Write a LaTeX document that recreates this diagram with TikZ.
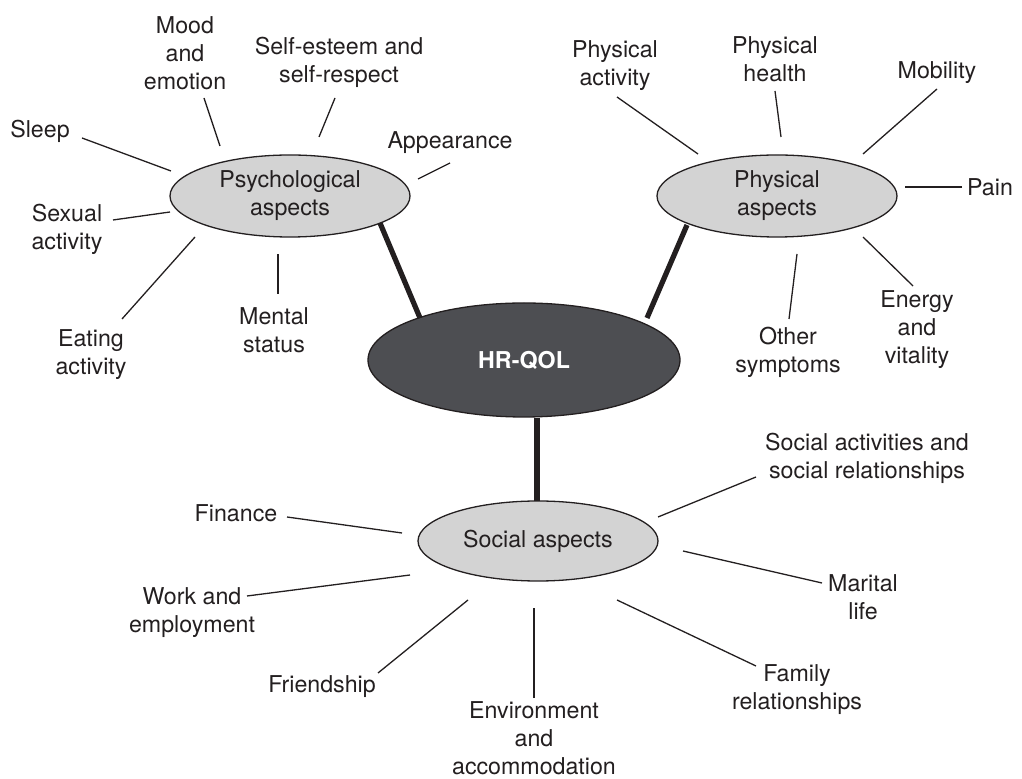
\documentclass[tikz,border=0pt]{standalone}
\usepackage{fontspec}
\setmainfont{TeX Gyre Heros}
\usetikzlibrary{shapes.geometric}
\definecolor{ink}{HTML}{231F20}
\definecolor{aspectfill}{HTML}{D3D3D3}
\definecolor{corefill}{HTML}{4D4E52}
\newcommand{\lblfont}{\fontsize{11.6}{14}\selectfont}
\begin{document}
\begin{tikzpicture}[x=0.5pt,y=-0.5pt,
  lbl/.style={align=center,font=\lblfont,text=ink,inner sep=0pt},
  aspect/.style={ellipse,draw=ink,line width=0.65pt,fill=aspectfill,inner sep=0pt,
    minimum width=120pt,minimum height=41pt,align=center,
    font=\lblfont,text=ink},
  core/.style={ellipse,draw=ink,line width=0.65pt,fill=corefill,inner sep=0pt,
    minimum width=156pt,minimum height=57pt,
    font=\lblfont\bfseries,text=white},
  spoke/.style={draw=ink,line width=0.65pt},
  trunk/.style={draw=ink,line width=2.6pt}]
\useasboundingbox (0,0) rectangle (1022,779);

% main ellipses
\node[core] (hr) at (524,360) {HR-QOL};
\node[aspect] (psy) at (290,196) {Psychological\\aspects};
\node[aspect] (phy) at (777,196) {Physical\\aspects};
\node[aspect,minimum height=40pt] (soc) at (538,541) {Social aspects};

% thick links between the core and the three aspects
\coordinate (psyT) at (380,223); \coordinate (hrP) at (420,318);
\coordinate (phyT) at (687,225); \coordinate (hrH) at (647,318);
\coordinate (hrS) at (537,418);  \coordinate (socT) at (537,501);
\draw[trunk] (psyT) -- (hrP);
\draw[trunk] (phyT) -- (hrH);
\draw[trunk] (hrS) -- (socT);

% psychological items
\node[lbl] (mood) at (185,53) {Mood\\and\\emotion};
\node[lbl] (selfe) at (339,62) {Self-esteem and\\self-respect};
\node[lbl] (sleep) at (40,131) {Sleep};
\node[lbl] (appear) at (450,143) {Appearance};
\node[lbl] (sexual) at (67,229) {Sexual\\activity};
\node[lbl] (eating) at (91,355) {Eating\\activity};
\node[lbl] (mental) at (274,330) {Mental\\status};

\coordinate (moodA) at (204,98);  \coordinate (moodB) at (220,146);
\coordinate (selfA) at (335,98);  \coordinate (selfB) at (319,137);
\coordinate (sleepA) at (82,138); \coordinate (sleepB) at (171,171);
\coordinate (appA) at (450,163);  \coordinate (appB) at (418,179);
\coordinate (sexA) at (113,220);  \coordinate (sexB) at (170,212);
\coordinate (eatA) at (122,319);  \coordinate (eatB) at (195,237);
\coordinate (menA) at (278,294);  \coordinate (menB) at (278,254);
\draw[spoke] (moodA) -- (moodB);
\draw[spoke] (selfA) -- (selfB);
\draw[spoke] (sleepA) -- (sleepB);
\draw[spoke] (appA) -- (appB);
\draw[spoke] (sexA) -- (sexB);
\draw[spoke] (eatA) -- (eatB);
\draw[spoke] (menA) -- (menB);

% physical items
\node[lbl] (pact) at (615,66) {Physical\\activity};
\node[lbl] (phealth) at (775,59) {Physical\\health};
\node[lbl] (mobility) at (937,73) {Mobility};
\node[lbl] (pain) at (990,187) {Pain};
\node[lbl] (energy) at (917,330) {Energy\\and\\vitality};
\node[lbl] (other) at (788,352) {Other\\symptoms};

\coordinate (pactA) at (617,97);  \coordinate (pactB) at (698,154);
\coordinate (phA) at (775,91);    \coordinate (phB) at (781,137);
\coordinate (mobA) at (937,89);   \coordinate (mobB) at (863,154);
\coordinate (painA) at (962,187); \coordinate (painB) at (905,187);
\coordinate (enA) at (913,286);   \coordinate (enB) at (863,237);
\coordinate (othA) at (789,319);  \coordinate (othB) at (797,254);
\draw[spoke] (pactA) -- (pactB);
\draw[spoke] (phA) -- (phB);
\draw[spoke] (mobA) -- (mobB);
\draw[spoke] (painA) -- (painB);
\draw[spoke] (enA) -- (enB);
\draw[spoke] (othA) -- (othB);

% social items
\node[lbl] (socact) at (867,458) {Social activities and\\social relationships};
\node[lbl] (finance) at (236,513) {Finance};
\node[lbl] (work) at (192,613) {Work and\\employment};
\node[lbl] (marital) at (863,597) {Marital\\life};
\node[lbl] (friend) at (322,687) {Friendship};
\node[lbl] (family) at (797,690) {Family\\relationships};
\node[lbl] (env) at (534,738) {Environment\\and\\accommodation};

\coordinate (saA) at (756,477);   \coordinate (saB) at (658,517);
\coordinate (finA) at (287,517);  \coordinate (finB) at (402,533);
\coordinate (wkA) at (247,596);   \coordinate (wkB) at (410,575);
\coordinate (marA) at (822,583);  \coordinate (marB) at (683,551);
\coordinate (frA) at (378,673);   \coordinate (frB) at (468,600);
\coordinate (famA) at (756,666);  \coordinate (famB) at (617,600);
\coordinate (envA) at (534,698);  \coordinate (envB) at (534,608);
\draw[spoke] (saA) -- (saB);
\draw[spoke] (finA) -- (finB);
\draw[spoke] (wkA) -- (wkB);
\draw[spoke] (marA) -- (marB);
\draw[spoke] (frA) -- (frB);
\draw[spoke] (famA) -- (famB);
\draw[spoke] (envA) -- (envB);
\end{tikzpicture}
\end{document}
